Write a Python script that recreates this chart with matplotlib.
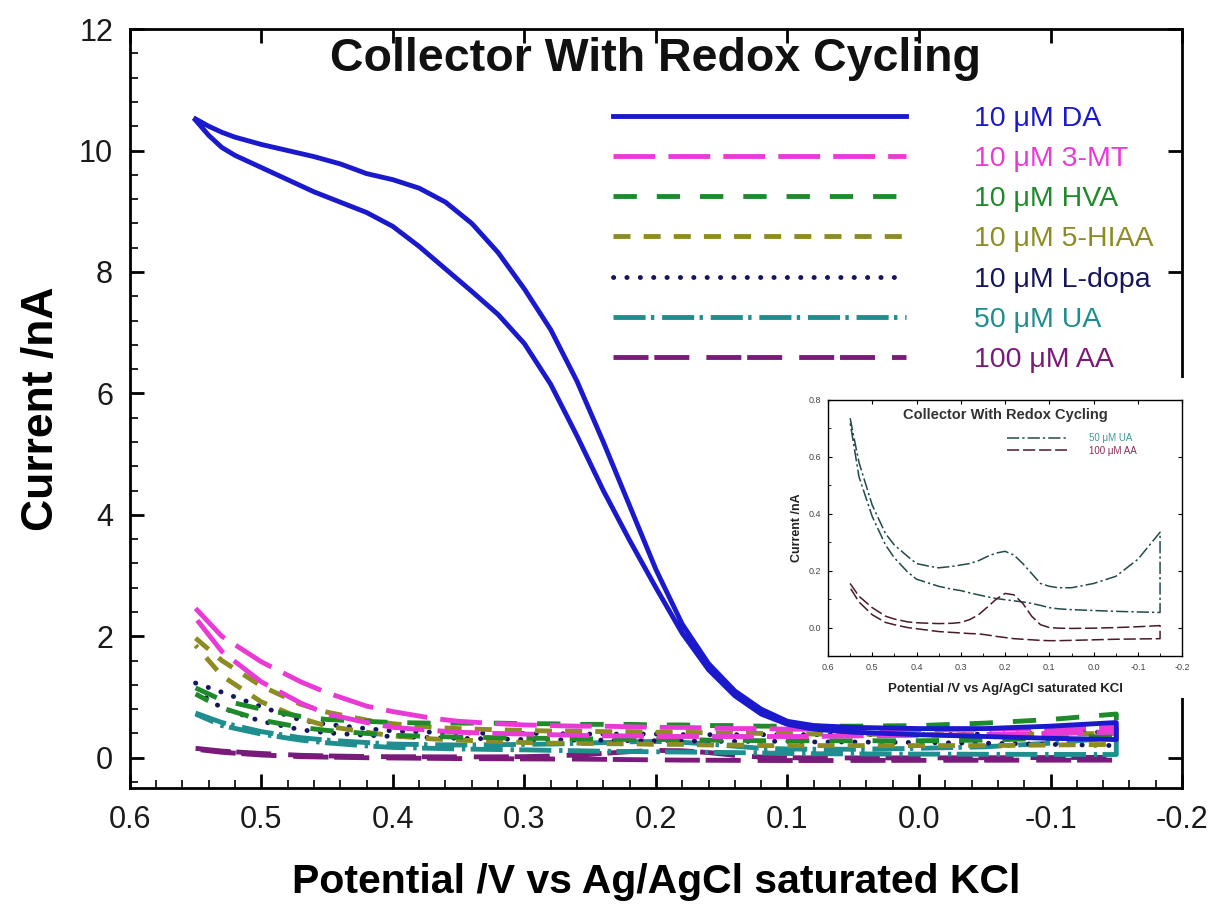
import numpy as np
import matplotlib
matplotlib.use("Agg")
import matplotlib.pyplot as plt
from matplotlib.patches import Rectangle
from matplotlib.ticker import MultipleLocator, FormatStrFormatter

plt.rcParams['font.family'] = ['Liberation Sans', 'DejaVu Sans']
plt.rcParams['axes.unicode_minus'] = False

# potential grid (V), same for both sweep branches
pot = [0.55, 0.53, 0.5, 0.47, 0.45, 0.42, 0.4, 0.37, 0.35, 0.32, 0.3, 0.28, 0.26,
       0.24, 0.22, 0.2, 0.18, 0.16, 0.14, 0.12, 0.1, 0.08, 0.05, 0.0, -0.05, -0.1, -0.15]
# finer grid for the dopamine wave
pot_da = [0.55, 0.54, 0.53, 0.52, 0.5, 0.48, 0.46, 0.44, 0.42, 0.4, 0.38, 0.36, 0.34,
          0.32, 0.3, 0.28, 0.26, 0.24, 0.22, 0.2, 0.18, 0.16, 0.14, 0.12, 0.1, 0.08,
          0.05, 0.0, -0.05, -0.1, -0.15]

# currents (nA), outer branch / inner branch
da_up = [10.52, 10.4, 10.3, 10.22, 10.1, 10.0, 9.9, 9.78, 9.62, 9.52, 9.38, 9.15, 8.8,
         8.32, 7.72, 7.05, 6.2, 5.2, 4.15, 3.1, 2.2, 1.55, 1.1, 0.8, 0.6, 0.53,
         0.5, 0.48, 0.48, 0.52, 0.58]
da_dn = [10.5, 10.25, 10.05, 9.92, 9.72, 9.52, 9.32, 9.15, 8.98, 8.75, 8.42, 8.05, 7.68,
         7.3, 6.82, 6.15, 5.3, 4.4, 3.58, 2.8, 2.05, 1.45, 1.02, 0.72, 0.55, 0.47,
         0.42, 0.38, 0.35, 0.32, 0.3]
mt_up = [2.46, 2.0, 1.58, 1.25, 1.07, 0.85, 0.76, 0.65, 0.6, 0.56, 0.54, 0.53, 0.52,
         0.52, 0.51, 0.5, 0.5, 0.49, 0.48, 0.48, 0.47, 0.47, 0.46, 0.46, 0.47, 0.48, 0.5]
mt_dn = [2.3, 1.75, 1.25, 0.9, 0.72, 0.58, 0.5, 0.45, 0.42, 0.4, 0.39, 0.38, 0.37,
         0.36, 0.36, 0.35, 0.35, 0.35, 0.35, 0.35, 0.35, 0.35, 0.36, 0.37, 0.38, 0.4, 0.42]
hva_up = [1.15, 0.95, 0.8, 0.68, 0.63, 0.6, 0.58, 0.57, 0.57, 0.57, 0.56, 0.56, 0.55,
          0.55, 0.55, 0.54, 0.54, 0.53, 0.53, 0.52, 0.52, 0.52, 0.52, 0.53, 0.57, 0.63, 0.72]
hva_dn = [1.05, 0.82, 0.62, 0.5, 0.45, 0.4, 0.37, 0.35, 0.34, 0.33, 0.32, 0.32, 0.31,
          0.31, 0.3, 0.3, 0.3, 0.29, 0.29, 0.28, 0.28, 0.28, 0.28, 0.28, 0.29, 0.32, 0.36]
hiaa_up = [1.97, 1.6, 1.18, 0.88, 0.75, 0.62, 0.56, 0.5, 0.48, 0.46, 0.45, 0.44, 0.44,
           0.43, 0.43, 0.42, 0.42, 0.41, 0.41, 0.4, 0.4, 0.39, 0.39, 0.38, 0.38, 0.39, 0.4]
hiaa_dn = [1.85, 1.35, 0.92, 0.65, 0.52, 0.42, 0.36, 0.31, 0.29, 0.27, 0.25, 0.24, 0.24,
           0.23, 0.23, 0.22, 0.22, 0.21, 0.21, 0.2, 0.2, 0.2, 0.2, 0.2, 0.2, 0.21, 0.22]
ldopa_up = [1.23, 1.08, 0.84, 0.62, 0.55, 0.48, 0.44, 0.42, 0.41, 0.4, 0.4, 0.4, 0.39,
            0.39, 0.39, 0.39, 0.38, 0.38, 0.38, 0.38, 0.38, 0.38, 0.38, 0.38, 0.39, 0.4, 0.43]
ldopa_dn = [1.1, 0.82, 0.6, 0.46, 0.41, 0.37, 0.35, 0.33, 0.32, 0.31, 0.3, 0.3, 0.29,
            0.29, 0.28, 0.28, 0.28, 0.27, 0.27, 0.27, 0.27, 0.26, 0.26, 0.25, 0.24, 0.22, 0.2]
ua_up = [0.736, 0.58, 0.43, 0.33, 0.29, 0.25, 0.225, 0.215, 0.21, 0.215, 0.22, 0.225, 0.235,
         0.25, 0.262, 0.268, 0.255, 0.225, 0.19, 0.155, 0.145, 0.14, 0.14, 0.155, 0.18, 0.24, 0.335]
ua_dn = [0.72, 0.53, 0.39, 0.29, 0.245, 0.195, 0.17, 0.155, 0.145, 0.135, 0.13, 0.122, 0.115,
         0.108, 0.102, 0.098, 0.094, 0.09, 0.085, 0.078, 0.07, 0.066, 0.063, 0.06, 0.057, 0.055, 0.053]
aa_up = [0.155, 0.11, 0.07, 0.04, 0.03, 0.02, 0.017, 0.015, 0.014, 0.015, 0.018, 0.028, 0.045,
         0.072, 0.1, 0.12, 0.115, 0.085, 0.04, 0.01, 0.0, -0.002, -0.003, -0.002, 0.0, 0.003, 0.007]
aa_dn = [0.14, 0.09, 0.045, 0.018, 0.01, 0.0, -0.004, -0.01, -0.014, -0.017, -0.019, -0.021, -0.022,
         -0.026, -0.031, -0.035, -0.039, -0.041, -0.043, -0.045, -0.046, -0.046, -0.045, -0.043,
         -0.041, -0.04, -0.039]

labels = ['10 \u03bcM DA', '10 \u03bcM 3-MT', '10 \u03bcM HVA', '10 \u03bcM 5-HIAA',
          '10 \u03bcM L-dopa', '50 \u03bcM UA', '100 \u03bcM AA']
colors = ['#1a1acc', '#ea3ad6', '#1f8a2a', '#8c8c22', '#16165e', '#1f8e8e', '#7a1a7a']
dashes = [None, (8.6, 2.7), (4.8, 4.1), (3.5, 2.7), (0.05, 2.7),
          (6.6, 1.1, 0.7, 1.6), (7.2, 1.2, 7.2, 3.5)]
ups = [da_up, mt_up, hva_up, hiaa_up, ldopa_up, ua_up, aa_up]
dns = [da_dn, mt_dn, hva_dn, hiaa_dn, ldopa_dn, ua_dn, aa_dn]
grids = [pot_da] + [pot] * 6


def cycle(e, up, dn):
    # forward sweep then back along the other branch
    x = list(e) + list(e[::-1])
    y = list(up) + list(dn[::-1])
    return x, y


fig = plt.figure(figsize=(12.13, 9.09), dpi=100)
ax = fig.add_axes([0.107, 0.133, 0.8675, 0.835])

handles = []
for i in range(len(labels)):
    x, y = cycle(grids[i], ups[i], dns[i])
    ln, = ax.plot(x, y, color=colors[i], lw=3.5, label=labels[i],
                  zorder=10 - i if i else 20)
    if dashes[i] is not None:
        ln.set_dashes(dashes[i])
        if i == 4:
            ln.set_dash_capstyle('round')
    handles.append(ln)

ax.set_xlim(0.6, -0.2)
ax.set_ylim(-0.5, 12)
ax.xaxis.set_major_locator(MultipleLocator(0.1))
ax.xaxis.set_minor_locator(MultipleLocator(0.02))
ax.yaxis.set_major_locator(MultipleLocator(2))
ax.yaxis.set_minor_locator(MultipleLocator(0.4))
ax.xaxis.set_major_formatter(FormatStrFormatter('%.1f'))
ax.tick_params(which='major', direction='in', length=10, width=2, top=True, right=True,
               labelsize=22, labelcolor='#1a1a1a', pad=12)
ax.tick_params(which='minor', direction='in', length=6, width=1.2, top=False, right=False)
for s in ax.spines.values():
    s.set_linewidth(2)

ax.set_xlabel('Potential /V vs Ag/AgCl saturated KCl', fontsize=29.5, fontweight='bold',
              labelpad=20)
ax.set_ylabel('Current /nA', fontsize=32, fontweight='bold', labelpad=12)
ax.text(0.5, 0.96, 'Collector With Redox Cycling', transform=ax.transAxes,
        ha='center', va='center', fontsize=33.5, fontweight='bold', color='#111111')

leg = ax.legend(handles=handles, loc='upper left', bbox_to_anchor=(0.459, 0.899),
                frameon=False, fontsize=20.5, handlelength=10.3, handletextpad=2.4,
                labelspacing=0.5, borderpad=0, borderaxespad=0, labelcolor='linecolor')

# white box behind the inset
fig.add_artist(Rectangle((785 / 1213, 1 - 698 / 909), 428 / 1213, 320 / 909,
                         transform=fig.transFigure, facecolor='white',
                         edgecolor='none', zorder=1))

# inset: UA and AA only
ins = fig.add_axes([0.6826, 0.2783, 0.292, 0.2817], zorder=2)
ins_colors = ['#234a4a', '#4a1a2a']
ins_dashes = [(8, 2, 1.5, 2), (8, 2.5)]
ins_lines = []
for k, i in enumerate([5, 6]):
    x, y = cycle(pot, ups[i], dns[i])
    ln, = ins.plot(x, y, color=ins_colors[k], lw=1.1, label=labels[i])
    ln.set_dashes(ins_dashes[k])
    ins_lines.append(ln)
ins.set_xlim(0.6, -0.2)
ins.set_ylim(-0.1, 0.8)
ins.xaxis.set_major_locator(MultipleLocator(0.1))
ins.xaxis.set_minor_locator(MultipleLocator(0.05))
ins.yaxis.set_major_locator(MultipleLocator(0.2))
ins.yaxis.set_minor_locator(MultipleLocator(0.1))
ins.xaxis.set_major_formatter(FormatStrFormatter('%.1f'))
ins.yaxis.set_major_formatter(FormatStrFormatter('%.1f'))
ins.tick_params(which='major', direction='in', length=3, width=0.8, top=True, right=True,
                labelsize=6.5, labelcolor='#444444', pad=5)
ins.tick_params(which='minor', direction='in', length=2, width=0.6, top=False, right=False)
for s in ins.spines.values():
    s.set_linewidth(1)
ins.set_xlabel('Potential /V vs Ag/AgCl saturated KCl', fontsize=9.5, fontweight='bold',
               labelpad=8, color='#222222')
ins.set_ylabel('Current /nA', fontsize=9, fontweight='bold', labelpad=4, color='#222222')
ins.text(0.5, 0.94, 'Collector With Redox Cycling', transform=ins.transAxes,
         ha='center', va='center', fontsize=10.5, fontweight='bold', color='#333333')
ileg = ins.legend(handles=ins_lines, loc='upper left', bbox_to_anchor=(0.505, 0.87),
                  frameon=False, fontsize=7, handlelength=6.2, handletextpad=2.2,
                  labelspacing=0.25, borderpad=0, borderaxespad=0)
ileg.get_texts()[0].set_color('#3a9a9a')
ileg.get_texts()[1].set_color('#8a2a5a')

fig.savefig('out.png', dpi=100)
